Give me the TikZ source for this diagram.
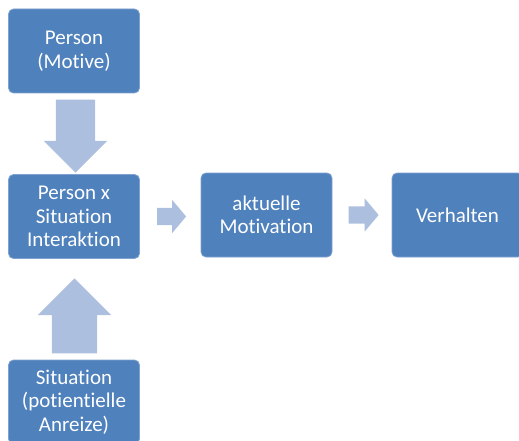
\documentclass[tikz,border=0pt]{standalone}
\usepackage{fontspec}
\setmainfont{Carlito}[Ligatures={NoCommon}]
\usepackage{tikz}
\usetikzlibrary{shapes.arrows,calc}
\definecolor{mvBox}{HTML}{4F81BD}
\definecolor{mvEdge}{HTML}{7FA2D0}
\definecolor{mvArrow}{HTML}{ADBFDE}

\tikzset{
  mvbox/.style={draw=mvEdge,line width=0.8pt,rounded corners=5pt,fill=mvBox,text=white,
    minimum width=131pt,minimum height=84pt,align=center,inner sep=2pt,
    font=\fontsize{21}{23.5}\selectfont},
  mvarrow/.style={single arrow,fill=mvArrow,draw=none,anchor=tail},
}

\begin{document}
\begin{tikzpicture}[x=1pt,y=-1pt]
    \useasboundingbox (0,0) rectangle (519,441);
    % boxes
    \node[mvbox] (person) at (74,51) {Person\\(Motive)};
    \node[mvbox] (interakt) at (74,216.5) {Person x\\Situation\\Interaktion};
    \node[mvbox] (motiv) at (266.5,215) {aktuelle\\Motivation};
    \node[mvbox] (verh) at (457.5,215) {Verhalten};
    \node[mvbox] (sit) at (74,402) {Situation\\(potientielle\\Anreize)};
    % block arrows
    \node[mvarrow,shape border rotate=270,inner xsep=19.5pt,inner ysep=0pt,single arrow head extend=12pt,
          minimum height=73pt] (a1) at ($(person.south)+(1.5,6)$) {};
    \node[mvarrow,shape border rotate=90,inner xsep=22.5pt,inner ysep=0pt,single arrow head extend=14pt,
          minimum height=75pt] (a2) at ($(sit.north)+(0.5,-6)$) {};
    \node[mvarrow,inner xsep=0pt,inner ysep=8.5pt,single arrow head extend=8pt,single arrow tip angle=100,
          minimum height=29pt] (a3) at ($(interakt.east)+(17,0)$) {};
    \node[mvarrow,inner xsep=0pt,inner ysep=8.5pt,single arrow head extend=8pt,single arrow tip angle=100,
          minimum height=30pt] (a4) at ($(motiv.east)+(16,0)$) {};
\end{tikzpicture}
\end{document}
